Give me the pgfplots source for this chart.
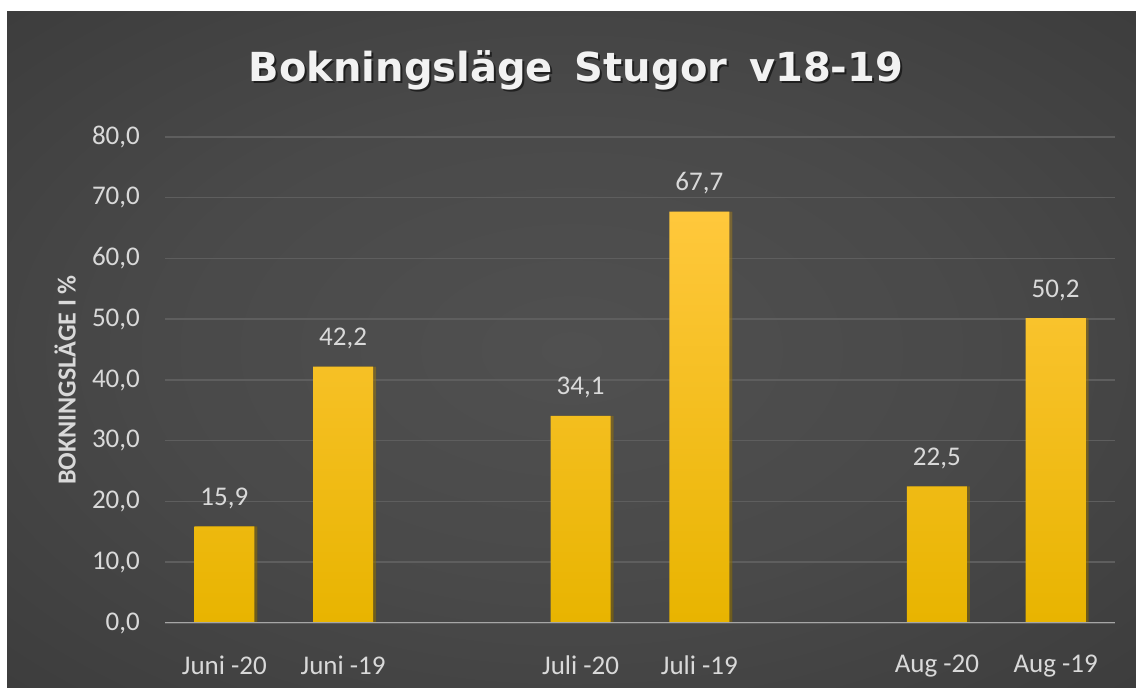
\documentclass[border=0pt]{standalone}
\usepackage{fontspec}
\setmainfont{Carlito}
\newfontfamily\titlefont{DejaVu Sans}
\usepackage{pgfplots}
\pgfplotsset{compat=1.18}

\definecolor{bgin}{HTML}{505050}
\definecolor{bgout}{HTML}{232323}
\definecolor{gridc}{HTML}{5E5E5E}
\definecolor{txt}{HTML}{D9D9D9}
\definecolor{bartop}{HTML}{FFC83C}
\definecolor{barmid}{HTML}{FFC400}
\definecolor{barbot}{HTML}{E8B400}
\pgfdeclareradialshading{bgshade}{\pgfpoint{0bp}{0bp}}{color(0bp)=(bgin); color(18bp)=(bgin!85!bgout); color(72bp)=(bgout)}

\begin{document}
\begin{tikzpicture}[x=1pt,y=1pt]
% page, with the dark chart area
\fill[white] (0,0) rectangle (1136,688);
\shade[shading=bgshade] (7,0) rectangle (1136,676);

% title with a soft shadow
\node[anchor=base, text=black, opacity=0.55] at (578,604)
  {\titlefont\bfseries\fontsize{40}{40}\selectfont Bokningsläge\hspace{0.55em}Stugor\hspace{0.55em}v18-19};
\node[anchor=base, text=white!95!black] at (576,606)
  {\titlefont\bfseries\fontsize{40}{40}\selectfont Bokningsläge\hspace{0.55em}Stugor\hspace{0.55em}v18-19};

\begin{axis}[
  at={(165pt,65pt)}, anchor=south west,
  scale only axis, width=950pt, height=486pt,
  ybar, bar width=60pt,
  xmin=-0.5, xmax=7.5, ymin=0, ymax=80,
  xtick={0,1,3,4,6,7},
  xticklabels={Juni -20, Juni -19, Juli -20, Juli -19, Aug -20, Aug -19},
  ytick={0,10,...,80},
  ymajorgrids, grid style={gridc, line width=1.5pt},
  axis line style={draw=none}, tick style={draw=none},
  /pgf/number format/.cd, use comma, fixed, fixed zerofill, precision=1, assume math mode=true,
  /pgfplots/.cd,
  ticklabel style={font=\fontsize{27}{27}\selectfont, text=txt},
  yticklabel style={anchor=east, inner sep=0pt, xshift=-25pt},
  xticklabel style={anchor=north, inner sep=0pt, yshift=-28pt},
  ylabel={\bfseries BOKNINGSLÄGE I \%},
  ylabel style={at={(axis description cs:-0.105,0.5)}, anchor=center,
    font=\fontsize{26}{26}\selectfont, text=txt},
  nodes near coords,
  every node near coord/.append style={font=\fontsize{27}{27}\selectfont, text=txt,
    anchor=base, inner sep=0pt, yshift=21pt},
]
\addplot[draw=none, top color=bartop, middle color=barmid, bottom color=barbot, bar shift=0pt,
  preaction={fill=black, fill opacity=0.35, transform canvas={xshift=3pt}}]
  coordinates {(0,15.9) (1,42.2) (3,34.1) (4,67.7) (6,22.5) (7,50.2)};
\draw[color=black!35, line width=2pt] (axis cs:-0.5,0) -- (axis cs:7.5,0);
\end{axis}
\end{tikzpicture}
\end{document}
